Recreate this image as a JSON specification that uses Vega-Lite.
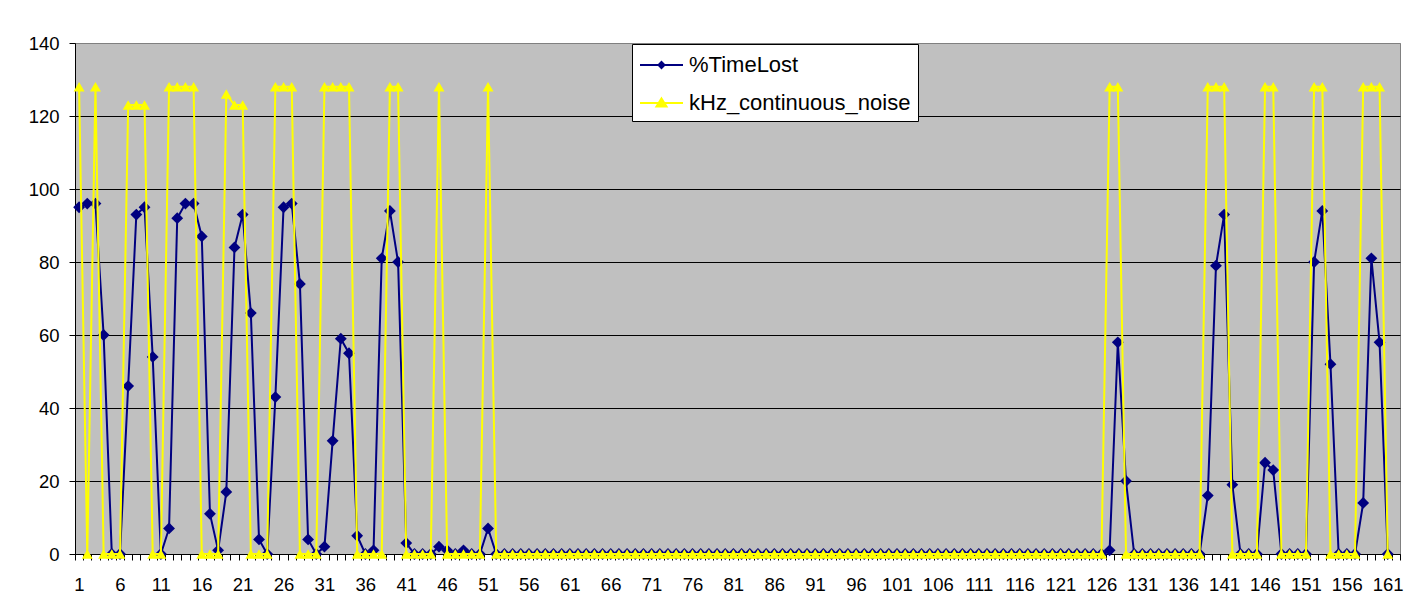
{
  "$schema": "https://vega.github.io/schema/vega-lite/v6.json",
  "width": 1325,
  "height": 511,
  "autosize": {"type": "none"},
  "padding": {"left": 75, "top": 43, "right": 21, "bottom": 58},
  "background": "white",
  "view": {"fill": "#C0C0C0", "stroke": "#808080", "strokeWidth": 1},
  "config": {"font": "Liberation Sans"},
  "data": {"values": [
    {"i":1,"%TimeLost":95,"kHz_continuous_noise":128},
    {"i":2,"%TimeLost":96,"kHz_continuous_noise":0},
    {"i":3,"%TimeLost":96,"kHz_continuous_noise":128},
    {"i":4,"%TimeLost":60,"kHz_continuous_noise":0},
    {"i":5,"%TimeLost":0,"kHz_continuous_noise":0},
    {"i":6,"%TimeLost":0,"kHz_continuous_noise":0},
    {"i":7,"%TimeLost":46,"kHz_continuous_noise":123},
    {"i":8,"%TimeLost":93,"kHz_continuous_noise":123},
    {"i":9,"%TimeLost":95,"kHz_continuous_noise":123},
    {"i":10,"%TimeLost":54,"kHz_continuous_noise":0},
    {"i":11,"%TimeLost":0,"kHz_continuous_noise":0},
    {"i":12,"%TimeLost":7,"kHz_continuous_noise":128},
    {"i":13,"%TimeLost":92,"kHz_continuous_noise":128},
    {"i":14,"%TimeLost":96,"kHz_continuous_noise":128},
    {"i":15,"%TimeLost":96,"kHz_continuous_noise":128},
    {"i":16,"%TimeLost":87,"kHz_continuous_noise":0},
    {"i":17,"%TimeLost":11,"kHz_continuous_noise":0},
    {"i":18,"%TimeLost":1,"kHz_continuous_noise":0},
    {"i":19,"%TimeLost":17,"kHz_continuous_noise":126},
    {"i":20,"%TimeLost":84,"kHz_continuous_noise":123},
    {"i":21,"%TimeLost":93,"kHz_continuous_noise":123},
    {"i":22,"%TimeLost":66,"kHz_continuous_noise":0},
    {"i":23,"%TimeLost":4,"kHz_continuous_noise":0},
    {"i":24,"%TimeLost":0,"kHz_continuous_noise":0},
    {"i":25,"%TimeLost":43,"kHz_continuous_noise":128},
    {"i":26,"%TimeLost":95,"kHz_continuous_noise":128},
    {"i":27,"%TimeLost":96,"kHz_continuous_noise":128},
    {"i":28,"%TimeLost":74,"kHz_continuous_noise":0},
    {"i":29,"%TimeLost":4,"kHz_continuous_noise":0},
    {"i":30,"%TimeLost":0,"kHz_continuous_noise":0},
    {"i":31,"%TimeLost":2,"kHz_continuous_noise":128},
    {"i":32,"%TimeLost":31,"kHz_continuous_noise":128},
    {"i":33,"%TimeLost":59,"kHz_continuous_noise":128},
    {"i":34,"%TimeLost":55,"kHz_continuous_noise":128},
    {"i":35,"%TimeLost":5,"kHz_continuous_noise":0},
    {"i":36,"%TimeLost":0,"kHz_continuous_noise":0},
    {"i":37,"%TimeLost":1,"kHz_continuous_noise":0},
    {"i":38,"%TimeLost":81,"kHz_continuous_noise":0},
    {"i":39,"%TimeLost":94,"kHz_continuous_noise":128},
    {"i":40,"%TimeLost":80,"kHz_continuous_noise":128},
    {"i":41,"%TimeLost":3,"kHz_continuous_noise":0},
    {"i":42,"%TimeLost":0,"kHz_continuous_noise":0},
    {"i":43,"%TimeLost":0,"kHz_continuous_noise":0},
    {"i":44,"%TimeLost":0,"kHz_continuous_noise":0},
    {"i":45,"%TimeLost":2,"kHz_continuous_noise":128},
    {"i":46,"%TimeLost":1,"kHz_continuous_noise":0},
    {"i":47,"%TimeLost":0,"kHz_continuous_noise":0},
    {"i":48,"%TimeLost":1,"kHz_continuous_noise":0},
    {"i":49,"%TimeLost":0,"kHz_continuous_noise":0},
    {"i":50,"%TimeLost":0,"kHz_continuous_noise":0},
    {"i":51,"%TimeLost":7,"kHz_continuous_noise":128},
    {"i":52,"%TimeLost":0,"kHz_continuous_noise":0},
    {"i":53,"%TimeLost":0,"kHz_continuous_noise":0},
    {"i":54,"%TimeLost":0,"kHz_continuous_noise":0},
    {"i":55,"%TimeLost":0,"kHz_continuous_noise":0},
    {"i":56,"%TimeLost":0,"kHz_continuous_noise":0},
    {"i":57,"%TimeLost":0,"kHz_continuous_noise":0},
    {"i":58,"%TimeLost":0,"kHz_continuous_noise":0},
    {"i":59,"%TimeLost":0,"kHz_continuous_noise":0},
    {"i":60,"%TimeLost":0,"kHz_continuous_noise":0},
    {"i":61,"%TimeLost":0,"kHz_continuous_noise":0},
    {"i":62,"%TimeLost":0,"kHz_continuous_noise":0},
    {"i":63,"%TimeLost":0,"kHz_continuous_noise":0},
    {"i":64,"%TimeLost":0,"kHz_continuous_noise":0},
    {"i":65,"%TimeLost":0,"kHz_continuous_noise":0},
    {"i":66,"%TimeLost":0,"kHz_continuous_noise":0},
    {"i":67,"%TimeLost":0,"kHz_continuous_noise":0},
    {"i":68,"%TimeLost":0,"kHz_continuous_noise":0},
    {"i":69,"%TimeLost":0,"kHz_continuous_noise":0},
    {"i":70,"%TimeLost":0,"kHz_continuous_noise":0},
    {"i":71,"%TimeLost":0,"kHz_continuous_noise":0},
    {"i":72,"%TimeLost":0,"kHz_continuous_noise":0},
    {"i":73,"%TimeLost":0,"kHz_continuous_noise":0},
    {"i":74,"%TimeLost":0,"kHz_continuous_noise":0},
    {"i":75,"%TimeLost":0,"kHz_continuous_noise":0},
    {"i":76,"%TimeLost":0,"kHz_continuous_noise":0},
    {"i":77,"%TimeLost":0,"kHz_continuous_noise":0},
    {"i":78,"%TimeLost":0,"kHz_continuous_noise":0},
    {"i":79,"%TimeLost":0,"kHz_continuous_noise":0},
    {"i":80,"%TimeLost":0,"kHz_continuous_noise":0},
    {"i":81,"%TimeLost":0,"kHz_continuous_noise":0},
    {"i":82,"%TimeLost":0,"kHz_continuous_noise":0},
    {"i":83,"%TimeLost":0,"kHz_continuous_noise":0},
    {"i":84,"%TimeLost":0,"kHz_continuous_noise":0},
    {"i":85,"%TimeLost":0,"kHz_continuous_noise":0},
    {"i":86,"%TimeLost":0,"kHz_continuous_noise":0},
    {"i":87,"%TimeLost":0,"kHz_continuous_noise":0},
    {"i":88,"%TimeLost":0,"kHz_continuous_noise":0},
    {"i":89,"%TimeLost":0,"kHz_continuous_noise":0},
    {"i":90,"%TimeLost":0,"kHz_continuous_noise":0},
    {"i":91,"%TimeLost":0,"kHz_continuous_noise":0},
    {"i":92,"%TimeLost":0,"kHz_continuous_noise":0},
    {"i":93,"%TimeLost":0,"kHz_continuous_noise":0},
    {"i":94,"%TimeLost":0,"kHz_continuous_noise":0},
    {"i":95,"%TimeLost":0,"kHz_continuous_noise":0},
    {"i":96,"%TimeLost":0,"kHz_continuous_noise":0},
    {"i":97,"%TimeLost":0,"kHz_continuous_noise":0},
    {"i":98,"%TimeLost":0,"kHz_continuous_noise":0},
    {"i":99,"%TimeLost":0,"kHz_continuous_noise":0},
    {"i":100,"%TimeLost":0,"kHz_continuous_noise":0},
    {"i":101,"%TimeLost":0,"kHz_continuous_noise":0},
    {"i":102,"%TimeLost":0,"kHz_continuous_noise":0},
    {"i":103,"%TimeLost":0,"kHz_continuous_noise":0},
    {"i":104,"%TimeLost":0,"kHz_continuous_noise":0},
    {"i":105,"%TimeLost":0,"kHz_continuous_noise":0},
    {"i":106,"%TimeLost":0,"kHz_continuous_noise":0},
    {"i":107,"%TimeLost":0,"kHz_continuous_noise":0},
    {"i":108,"%TimeLost":0,"kHz_continuous_noise":0},
    {"i":109,"%TimeLost":0,"kHz_continuous_noise":0},
    {"i":110,"%TimeLost":0,"kHz_continuous_noise":0},
    {"i":111,"%TimeLost":0,"kHz_continuous_noise":0},
    {"i":112,"%TimeLost":0,"kHz_continuous_noise":0},
    {"i":113,"%TimeLost":0,"kHz_continuous_noise":0},
    {"i":114,"%TimeLost":0,"kHz_continuous_noise":0},
    {"i":115,"%TimeLost":0,"kHz_continuous_noise":0},
    {"i":116,"%TimeLost":0,"kHz_continuous_noise":0},
    {"i":117,"%TimeLost":0,"kHz_continuous_noise":0},
    {"i":118,"%TimeLost":0,"kHz_continuous_noise":0},
    {"i":119,"%TimeLost":0,"kHz_continuous_noise":0},
    {"i":120,"%TimeLost":0,"kHz_continuous_noise":0},
    {"i":121,"%TimeLost":0,"kHz_continuous_noise":0},
    {"i":122,"%TimeLost":0,"kHz_continuous_noise":0},
    {"i":123,"%TimeLost":0,"kHz_continuous_noise":0},
    {"i":124,"%TimeLost":0,"kHz_continuous_noise":0},
    {"i":125,"%TimeLost":0,"kHz_continuous_noise":0},
    {"i":126,"%TimeLost":0,"kHz_continuous_noise":0},
    {"i":127,"%TimeLost":1,"kHz_continuous_noise":128},
    {"i":128,"%TimeLost":58,"kHz_continuous_noise":128},
    {"i":129,"%TimeLost":20,"kHz_continuous_noise":0},
    {"i":130,"%TimeLost":0,"kHz_continuous_noise":0},
    {"i":131,"%TimeLost":0,"kHz_continuous_noise":0},
    {"i":132,"%TimeLost":0,"kHz_continuous_noise":0},
    {"i":133,"%TimeLost":0,"kHz_continuous_noise":0},
    {"i":134,"%TimeLost":0,"kHz_continuous_noise":0},
    {"i":135,"%TimeLost":0,"kHz_continuous_noise":0},
    {"i":136,"%TimeLost":0,"kHz_continuous_noise":0},
    {"i":137,"%TimeLost":0,"kHz_continuous_noise":0},
    {"i":138,"%TimeLost":0,"kHz_continuous_noise":0},
    {"i":139,"%TimeLost":16,"kHz_continuous_noise":128},
    {"i":140,"%TimeLost":79,"kHz_continuous_noise":128},
    {"i":141,"%TimeLost":93,"kHz_continuous_noise":128},
    {"i":142,"%TimeLost":19,"kHz_continuous_noise":0},
    {"i":143,"%TimeLost":0,"kHz_continuous_noise":0},
    {"i":144,"%TimeLost":0,"kHz_continuous_noise":0},
    {"i":145,"%TimeLost":0,"kHz_continuous_noise":0},
    {"i":146,"%TimeLost":25,"kHz_continuous_noise":128},
    {"i":147,"%TimeLost":23,"kHz_continuous_noise":128},
    {"i":148,"%TimeLost":0,"kHz_continuous_noise":0},
    {"i":149,"%TimeLost":0,"kHz_continuous_noise":0},
    {"i":150,"%TimeLost":0,"kHz_continuous_noise":0},
    {"i":151,"%TimeLost":0,"kHz_continuous_noise":0},
    {"i":152,"%TimeLost":80,"kHz_continuous_noise":128},
    {"i":153,"%TimeLost":94,"kHz_continuous_noise":128},
    {"i":154,"%TimeLost":52,"kHz_continuous_noise":0},
    {"i":155,"%TimeLost":0,"kHz_continuous_noise":0},
    {"i":156,"%TimeLost":0,"kHz_continuous_noise":0},
    {"i":157,"%TimeLost":0,"kHz_continuous_noise":0},
    {"i":158,"%TimeLost":14,"kHz_continuous_noise":128},
    {"i":159,"%TimeLost":81,"kHz_continuous_noise":128},
    {"i":160,"%TimeLost":58,"kHz_continuous_noise":128},
    {"i":161,"%TimeLost":0,"kHz_continuous_noise":0}
  ]},
  "transform": [{"fold": ["%TimeLost", "kHz_continuous_noise"], "as": ["series", "value"]}],
  "encoding": {
    "x": {
      "field": "i", "type": "quantitative",
      "scale": {"domain": [0.5, 162.5], "nice": false, "zero": false},
      "axis": {
        "title": null,
        "values": [0.5,1.5,2.5,3.5,4.5,5.5,6.5,7.5,8.5,9.5,10.5,11.5,12.5,13.5,14.5,15.5,16.5,17.5,18.5,19.5,20.5,21.5,22.5,23.5,24.5,25.5,26.5,27.5,28.5,29.5,30.5,31.5,32.5,33.5,34.5,35.5,36.5,37.5,38.5,39.5,40.5,41.5,42.5,43.5,44.5,45.5,46.5,47.5,48.5,49.5,50.5,51.5,52.5,53.5,54.5,55.5,56.5,57.5,58.5,59.5,60.5,61.5,62.5,63.5,64.5,65.5,66.5,67.5,68.5,69.5,70.5,71.5,72.5,73.5,74.5,75.5,76.5,77.5,78.5,79.5,80.5,81.5,82.5,83.5,84.5,85.5,86.5,87.5,88.5,89.5,90.5,91.5,92.5,93.5,94.5,95.5,96.5,97.5,98.5,99.5,100.5,101.5,102.5,103.5,104.5,105.5,106.5,107.5,108.5,109.5,110.5,111.5,112.5,113.5,114.5,115.5,116.5,117.5,118.5,119.5,120.5,121.5,122.5,123.5,124.5,125.5,126.5,127.5,128.5,129.5,130.5,131.5,132.5,133.5,134.5,135.5,136.5,137.5,138.5,139.5,140.5,141.5,142.5,143.5,144.5,145.5,146.5,147.5,148.5,149.5,150.5,151.5,152.5,153.5,154.5,155.5,156.5,157.5,158.5,159.5,160.5,161.5,162.5],
        "labelExpr": "(datum.value - 0.5) % 5 === 0 && datum.value < 162 ? '' + (datum.value + 0.5) : ''",
        "labelOffset": 4,
        "labelOverlap": false,
        "labelFlush": false,
        "labelBound": false,
        "labelFont": "Liberation Sans",
        "labelFontSize": 18.5,
        "labelColor": "black",
        "labelPadding": 15,
        "tickSize": 6,
        "tickColor": "black",
        "domainColor": "black",
        "grid": false
      }
    },
    "y": {
      "field": "value", "type": "quantitative",
      "scale": {"domain": [0, 140], "nice": false},
      "axis": {
        "title": null,
        "values": [0, 20, 40, 60, 80, 100, 120, 140],
        "labelFont": "Liberation Sans",
        "labelFontSize": 18.5,
        "labelColor": "black",
        "labelPadding": 10,
        "tickSize": 6,
        "tickColor": "black",
        "domainColor": "black",
        "grid": true,
        "gridColor": {"condition": {"test": "datum.value === 140", "value": "#808080"}, "value": "black"},
        "gridOpacity": 1,
        "gridWidth": 1
      }
    },
    "color": {
      "field": "series", "type": "nominal",
      "scale": {"domain": ["%TimeLost", "kHz_continuous_noise"], "range": ["#000080", "#FFFF00"]},
      "legend": {
        "title": null,
        "orient": "none",
        "legendX": 557,
        "legendY": 1,
        "fillColor": "white",
        "strokeColor": "black",
        "padding": 7,
        "labelFont": "Liberation Sans",
        "labelFontSize": 22,
        "labelColor": "black",
        "labelLimit": 0,
        "labelOffset": 28,
        "rowPadding": 13,
        "symbolSize": 400,
        "encode": {
          "labels": {"update": {"dy": {"value": 3}}},
          "symbols": {
            "update": {
              "shape": {"signal": "datum.value === '%TimeLost' ? 'M-1,0.3H3.3M1.15,0L1.45,0.3L1.15,0.6L0.85,0.3Z' : 'M-1,0.3H3.3M1.15,-0.15L1.65,0.65L0.65,0.65Z'"},
              "fill": {"signal": "datum.value === '%TimeLost' ? '#000080' : '#FFFF00'"},
              "stroke": {"signal": "datum.value === '%TimeLost' ? '#000080' : '#FFFF00'"},
              "strokeWidth": {"value": 2},
              "opacity": {"value": 1},
              "fillOpacity": {"value": 1}
            }
          }
        }
      }
    }
  },
  "layer": [
    {"transform": [{"filter": "datum.series === '%TimeLost'"}], "mark": {"type": "line", "strokeWidth": 2}},
    {"transform": [{"filter": "datum.series === '%TimeLost'"}], "mark": {"type": "point", "shape": "diamond", "filled": true, "size": 140, "opacity": 1}},
    {"transform": [{"filter": "datum.series === 'kHz_continuous_noise'"}], "mark": {"type": "line", "strokeWidth": 2}},
    {"transform": [{"filter": "datum.series === 'kHz_continuous_noise'"}], "mark": {"type": "point", "shape": "triangle-up", "filled": true, "size": 120, "opacity": 1}}
  ]
}
